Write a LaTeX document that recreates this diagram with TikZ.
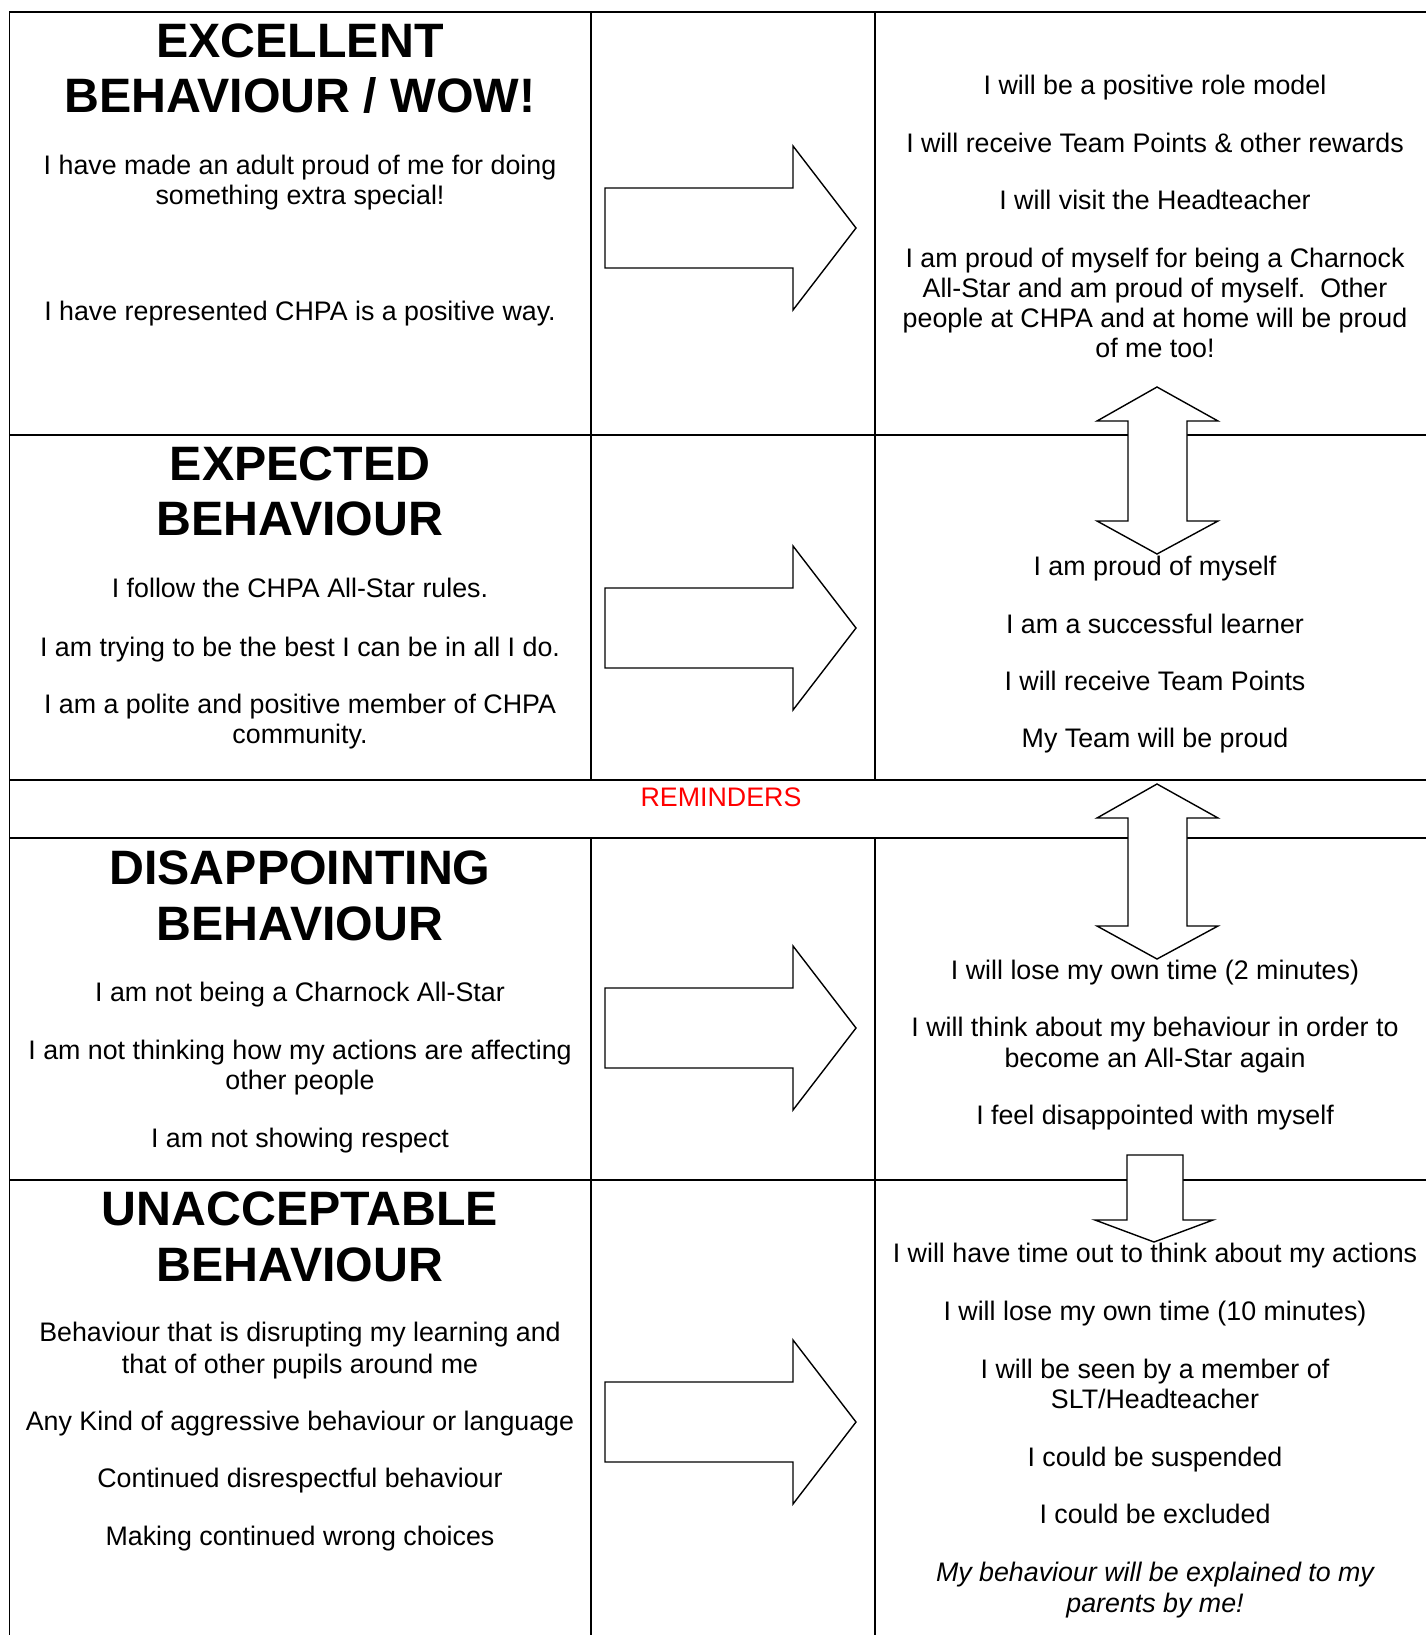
\documentclass[tikz,border=0pt]{standalone}
\usepackage{fontspec}
\setmainfont{Liberation Sans}
\definecolor{remred}{RGB}{255,0,0}
\newcommand\rarr[1]{\draw[blk] (605,#1-40) -- (793,#1-40) -- (793,#1-82) -- (856,#1) -- (793,#1+82) -- (793,#1+40) -- (605,#1+40) -- cycle;}
\newcommand\darr[2]{\draw[blk] (1157,#1) -- (1218,#1+34) -- (1187,#1+34) -- (1187,#2-33) -- (1218,#2-33) -- (1157,#2) -- (1097,#2-33) -- (1128,#2-33) -- (1128,#1+34) -- (1097,#1+34) -- cycle;}
\begin{document}
\begin{tikzpicture}[x=1pt,y=-1pt,
  hline/.style={line width=2pt},
  vline/.style={line width=1.6pt},
  blk/.style={draw=black, line width=1.4pt, fill=white, line join=miter},
  body/.style={inner sep=0pt, anchor=base, font=\fontsize{26.8}{30}\selectfont},
  ttl/.style={inner sep=0pt, anchor=base, font=\fontsize{48.3}{55}\selectfont\bfseries},
]
\useasboundingbox[fill=white] (0,0) rectangle (1426,1635);
% table
\foreach \yy in {12.5,435,780,838,1180} \draw[hline] (9,\yy) -- (1426,\yy);
\draw[vline] (9.5,12.5) -- (9.5,1635);
\foreach \xx in {591,875} {
  \draw[vline] (\xx,12.5) -- (\xx,780);
  \draw[vline] (\xx,838) -- (\xx,1635);
}
% block arrows
\rarr{228}
\rarr{628}
\rarr{1028}
\rarr{1422}
\darr{387}{554}
\darr{784}{959}
\draw[blk] (1127,1155) -- (1183,1155) -- (1183,1220) -- (1213,1220) -- (1154,1242) -- (1095,1220) -- (1127,1220) -- cycle;
% row 1
\node[ttl] (t1a) at (300,58) {EXCELLENT};
\node[ttl] (t1b) at (300,113) {BEHAVIOUR / WOW!};
\node[body] (a1) at (300,175) {I have made an adult proud of me for doing};
\node[body] (a2) at (300,204.5) {something extra special!};
\node[body] (a3) at (300,320) {I have represented CHPA is a positive way.};
\node[body] (b1) at (1155,95) {I will be a positive role model};
\node[body] (b2) at (1155,152) {I will receive Team Points \& other rewards};
\node[body] (b3) at (1155,209.5) {I will visit the Headteacher};
\node[body] (b4) at (1155,267) {I am proud of myself for being a Charnock};
\node[body] (b5) at (1155,297) {All-Star and am proud of myself.\ \ Other};
\node[body] (b6) at (1155,327.5) {people at CHPA and at home will be proud};
\node[body] (b7) at (1155,357.5) {of me too!};
% row 2
\node[ttl] (t2a) at (300,480.5) {EXPECTED};
\node[ttl] (t2b) at (300,535.5) {BEHAVIOUR};
\node[body] (c1) at (300,597.5) {I follow the CHPA All-Star rules.};
\node[body] (c2) at (300,656) {I am trying to be the best I can be in all I do.};
\node[body] (c3) at (300,713) {I am a polite and positive member of CHPA};
\node[body] (c4) at (300,743.5) {community.};
\node[body] (d1) at (1155,575.5) {I am proud of myself};
\node[body] (d2) at (1155,633) {I am a successful learner};
\node[body] (d3) at (1155,690) {I will receive Team Points};
\node[body] (d4) at (1155,747.5) {My Team will be proud};
% reminders
\node[body, text=remred] (rem) at (721,806) {REMINDERS};
% row 3
\node[ttl] (t3a) at (300,884) {DISAPPOINTING};
\node[ttl] (t3b) at (300,940) {BEHAVIOUR};
\node[body] (e1) at (300,1001) {I am not being a Charnock All-Star};
\node[body] (e2) at (300,1059) {I am not thinking how my actions are affecting};
\node[body] (e3) at (300,1089.5) {other people};
\node[body] (e4) at (300,1147) {I am not showing respect};
\node[body] (f1) at (1155,979) {I will lose my own time (2 minutes)};
\node[body] (f2) at (1155,1036.5) {I will think about my behaviour in order to};
\node[body] (f3) at (1155,1067.5) {become an All-Star again};
\node[body] (f4) at (1155,1124) {I feel disappointed with myself};
% row 4
\node[ttl] (t4a) at (300,1225.5) {UNACCEPTABLE};
\node[ttl] (t4b) at (300,1281) {BEHAVIOUR};
\node[body] (g1) at (300,1341.5) {Behaviour that is disrupting my learning and};
\node[body] (g2) at (300,1373) {that of other pupils around me};
\node[body] (g3) at (300,1430) {Any Kind of aggressive behaviour or language};
\node[body] (g4) at (300,1487.5) {Continued disrespectful behaviour};
\node[body] (g5) at (300,1545) {Making continued wrong choices};
\node[body] (h1) at (1155,1262.5) {I will have time out to think about my actions};
\node[body] (h2) at (1155,1320) {I will lose my own time (10 minutes)};
\node[body] (h3) at (1155,1378) {I will be seen by a member of};
\node[body] (h4) at (1155,1408.5) {SLT/Headteacher};
\node[body] (h5) at (1155,1466) {I could be suspended};
\node[body] (h6) at (1155,1523) {I could be excluded};
\node[body, font=\fontsize{26.8}{30}\selectfont\itshape] (h7) at (1155,1581.5) {My behaviour will be explained to my};
\node[body, font=\fontsize{26.8}{30}\selectfont\itshape] (h8) at (1155,1612) {parents by me!};
\end{tikzpicture}
\end{document}
